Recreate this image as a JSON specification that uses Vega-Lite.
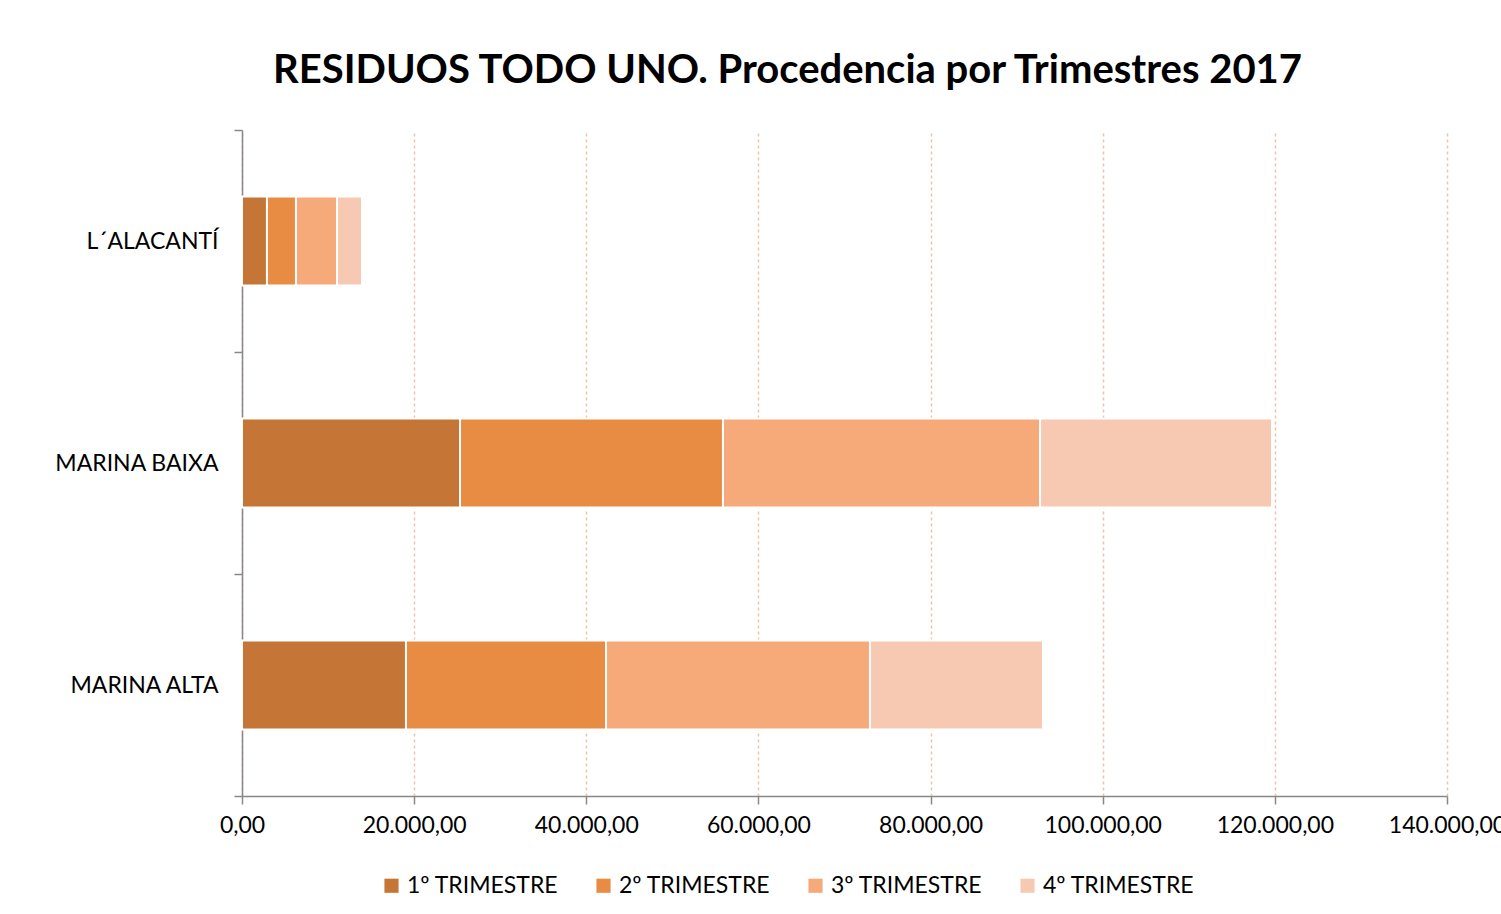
{
  "$schema": "https://vega.github.io/schema/vega-lite/v6.json",
  "width": 1205,
  "height": 666,
  "autosize": {"type": "none"},
  "padding": {"left": 242, "top": 130, "right": 54, "bottom": 118},
  "background": "white",
  "title": {
    "text": "RESIDUOS TODO UNO. Procedencia por Trimestres 2017",
    "font": "Lato",
    "fontSize": 40,
    "fontWeight": "bold",
    "color": "#000000",
    "anchor": "middle",
    "dx": -57,
    "offset": 28
  },
  "config": {
    "locale": {"number": {"decimal": ",", "thousands": ".", "grouping": [3], "currency": ["", " €"]}},
    "view": {"stroke": null},
    "font": "Lato"
  },
  "data": {
    "values": [
      {"comarca": "L´ALACANTÍ", "trimestre": "1º TRIMESTRE", "orden": 1, "valor": 2900},
      {"comarca": "L´ALACANTÍ", "trimestre": "2º TRIMESTRE", "orden": 2, "valor": 3370},
      {"comarca": "L´ALACANTÍ", "trimestre": "3º TRIMESTRE", "orden": 3, "valor": 4770},
      {"comarca": "L´ALACANTÍ", "trimestre": "4º TRIMESTRE", "orden": 4, "valor": 2900},
      {"comarca": "MARINA BAIXA", "trimestre": "1º TRIMESTRE", "orden": 1, "valor": 25330},
      {"comarca": "MARINA BAIXA", "trimestre": "2º TRIMESTRE", "orden": 2, "valor": 30550},
      {"comarca": "MARINA BAIXA", "trimestre": "3º TRIMESTRE", "orden": 3, "valor": 36840},
      {"comarca": "MARINA BAIXA", "trimestre": "4º TRIMESTRE", "orden": 4, "valor": 26950},
      {"comarca": "MARINA ALTA", "trimestre": "1º TRIMESTRE", "orden": 1, "valor": 19050},
      {"comarca": "MARINA ALTA", "trimestre": "2º TRIMESTRE", "orden": 2, "valor": 23240},
      {"comarca": "MARINA ALTA", "trimestre": "3º TRIMESTRE", "orden": 3, "valor": 30670},
      {"comarca": "MARINA ALTA", "trimestre": "4º TRIMESTRE", "orden": 4, "valor": 20100}
    ]
  },
  "mark": {"type": "bar", "stroke": "white", "strokeWidth": 2, "height": {"band": 0.4}},
  "encoding": {
    "y": {
      "field": "comarca",
      "type": "nominal",
      "sort": ["L´ALACANTÍ", "MARINA BAIXA", "MARINA ALTA"],
      "scale": {"paddingInner": 0, "paddingOuter": 0},
      "axis": {
        "title": null,
        "domainColor": "#888888",
        "domainWidth": 1.5,
        "tickColor": "#888888",
        "tickWidth": 1.5,
        "tickSize": 8,
        "tickBand": "extent",
        "labelFontSize": 23,
        "labelColor": "#000000",
        "labelPadding": 16,
        "labelFont": "Lato"
      }
    },
    "x": {
      "field": "valor",
      "type": "quantitative",
      "stack": "zero",
      "scale": {"domain": [0, 140000], "nice": false},
      "axis": {
        "title": null,
        "values": [0, 20000, 40000, 60000, 80000, 100000, 120000, 140000],
        "format": ",.2f",
        "domainColor": "#888888",
        "domainWidth": 1.5,
        "tickColor": "#888888",
        "tickWidth": 1.5,
        "tickSize": 8,
        "labelFontSize": 23,
        "labelColor": "#000000",
        "labelPadding": 10,
        "labelFont": "Lato",
        "labelOverlap": false,
        "labelBound": false,
        "labelFlush": false,
        "grid": true,
        "gridColor": "#f0c4a8",
        "gridDash": [3, 3],
        "gridWidth": 1.5
      }
    },
    "color": {
      "field": "trimestre",
      "type": "nominal",
      "scale": {
        "domain": ["1º TRIMESTRE", "2º TRIMESTRE", "3º TRIMESTRE", "4º TRIMESTRE"],
        "range": ["#C57535", "#E88C43", "#F6AA7A", "#F8C9B2"]
      },
      "legend": {
        "title": null,
        "orient": "none",
        "direction": "horizontal",
        "legendX": 138,
        "legendY": 744,
        "symbolType": "square",
        "symbolSize": 200,
        "symbolStrokeWidth": 0,
        "symbolOpacity": 1,
        "labelFontSize": 23,
        "labelFont": "Lato",
        "labelColor": "#000000",
        "labelLimit": 300,
        "columnPadding": 33,
        "symbolOffset": 0
      }
    },
    "order": {"field": "orden", "type": "quantitative"}
  }
}
